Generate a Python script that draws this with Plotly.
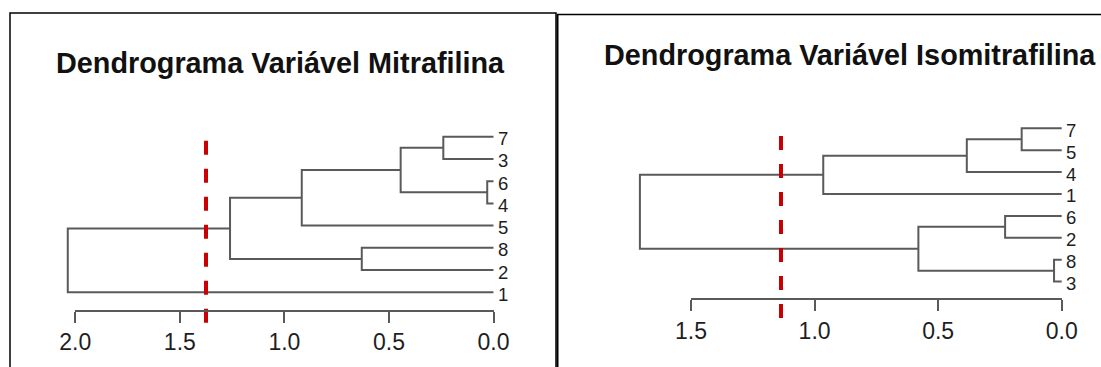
import plotly.graph_objects as go

W, H = 1101, 367

# ---------------- data ----------------
mitra_title = "Dendrograma Variável Mitrafilina"
mitra_leaves = ["7", "3", "6", "4", "5", "8", "2", "1"]
# (first child, second child, merge height); "Ck" = cluster made by k-th merge
mitra_merges = [
    ("7", "3", 0.240),
    ("6", "4", 0.030),
    ("8", "2", 0.630),
    ("C1", "C2", 0.444),
    ("C4", "5", 0.917),
    ("C5", "C3", 1.260),
    ("C6", "1", 2.036),
]
mitra_cut = 1.375
mitra_ticks = [0.0, 0.5, 1.0, 1.5, 2.0]

iso_title = "Dendrograma Variável Isomitrafilina"
iso_leaves = ["7", "5", "4", "1", "6", "2", "8", "3"]
iso_merges = [
    ("8", "3", 0.031),
    ("7", "5", 0.162),
    ("6", "2", 0.229),
    ("C2", "4", 0.384),
    ("C3", "C1", 0.580),
    ("C4", "1", 0.965),
    ("C6", "C5", 1.707),
]
iso_cut = 1.136
iso_ticks = [0.0, 0.5, 1.0, 1.5]

# ---------------- styles / geometry (pixels) ----------------
LINE = "#5a5a5a"
RED = "#c80000"
TXT = "#1e1e1e"
FONT = "Liberation Sans, Arial, sans-serif"

left_geo = dict(tree_px=(12, 554), zero_px=493.5, unit_px=209.1,
                leaf1_px=136.7, step_px=22.23, ydom_px=(95, 350),
                axis_px=310.7, cut_px=(140.7, 322.7),
                title_x=280, title_y=62.5)
right_geo = dict(tree_px=(560, 1099), zero_px=1061.7, unit_px=247.1,
                 leaf1_px=128.3, step_px=21.9, ydom_px=(95, 350),
                 axis_px=299.4, cut_px=(136, 320),
                 title_x=850, title_y=55)


def fx(px):
    return px / W


def fy(py):
    return 1 - py / H


def dendro_segments(leaves, merges):
    pos = {lab: i + 1 for i, lab in enumerate(leaves)}
    hgt = {lab: 0.0 for lab in leaves}
    xs, ys = [], []
    for k, (a, b, h) in enumerate(merges, start=1):
        ya, yb = pos[a], pos[b]
        xs += [hgt[a], h, h, hgt[b], None]
        ys += [ya, ya, yb, yb, None]
        cid = f"C{k}"
        pos[cid] = (ya + yb) / 2
        hgt[cid] = h
    return xs, ys


fig = go.Figure()
layout = dict(template="none", width=W, height=H, autosize=False,
              margin=dict(l=0, r=0, t=0, b=0, pad=0, autoexpand=False),
              paper_bgcolor="white", plot_bgcolor="rgba(0,0,0,0)",
              showlegend=False, annotations=[], shapes=[])

panels = [
    (mitra_title, mitra_leaves, mitra_merges, mitra_cut, mitra_ticks, left_geo, "", "2", ""),
    (iso_title, iso_leaves, iso_merges, iso_cut, iso_ticks, right_geo, "3", "4", "2"),
]

for title, leaves, merges, cut, ticks, g, xt, xs_, yid in panels:
    tx = "x" + xt
    sx = "x" + xs_
    ty = "y" + yid

    def val(px, g=g):
        return (g["zero_px"] - px) / g["unit_px"]

    def idx(py, g=g):
        return 1 + (py - g["leaf1_px"]) / g["step_px"]

    xs, ys = dendro_segments(leaves, merges)
    fig.add_trace(go.Scatter(x=xs, y=ys, mode="lines", xaxis=tx, yaxis=ty,
                             line=dict(color=LINE, width=2), hoverinfo="skip"))
    fig.add_trace(go.Scatter(x=[cut, cut], y=[idx(g["cut_px"][0]), idx(g["cut_px"][1])],
                             mode="lines", xaxis=tx, yaxis=ty,
                             line=dict(color=RED, width=4, dash="14px,14px"),
                             hoverinfo="skip"))
    fig.add_trace(go.Scatter(x=[ticks[0]], y=[1], mode="markers", xaxis=sx, yaxis=ty,
                             marker=dict(opacity=0), hoverinfo="skip"))

    kx = "xaxis" + xt
    ks = "xaxis" + xs_
    ky = "yaxis" + yid
    layout[kx] = dict(domain=[fx(g["tree_px"][0]), fx(g["tree_px"][1])],
                      range=[val(g["tree_px"][0]), val(g["tree_px"][1])],
                      visible=False, anchor=ty, automargin=False)
    layout[ky] = dict(domain=[fy(g["ydom_px"][1]), fy(g["ydom_px"][0])],
                      range=[idx(g["ydom_px"][1]), idx(g["ydom_px"][0])],
                      visible=False, anchor=tx, automargin=False)
    layout[ks] = dict(domain=[fx(g["zero_px"] - max(ticks) * g["unit_px"]), fx(g["zero_px"])],
                      range=[max(ticks), 0], anchor="free", position=fy(g["axis_px"]),
                      automargin=False,
                      showline=True, linecolor=LINE, linewidth=2,
                      ticks="outside", ticklen=11, tickwidth=2, tickcolor=LINE,
                      tickvals=ticks, tickformat=".1f",
                      tickfont=dict(family=FONT, size=23, color=TXT),
                      showgrid=False, zeroline=False)

    for i, lab in enumerate(leaves, start=1):
        layout["annotations"].append(dict(
            x=0, y=i, xref=tx, yref=ty, text=lab, showarrow=False,
            xanchor="left", yanchor="middle", xshift=3, yshift=-2,
            borderpad=0,
            font=dict(family=FONT, size=18.5, color=TXT)))

    layout["annotations"].append(dict(
        x=fx(g["title_x"]), y=fy(g["title_y"]), xref="paper", yref="paper",
        text="<b>" + title + "</b>", showarrow=False,
        xanchor="center", yanchor="middle",
        font=dict(family=FONT, size=28.8, color="#111111")))

# frames
layout["shapes"] += [
    dict(type="rect", xref="paper", yref="paper",
         x0=fx(10), x1=fx(556), y0=fy(370), y1=fy(13),
         line=dict(color="black", width=1.5)),
    dict(type="line", xref="paper", yref="paper",
         x0=fx(557), x1=fx(1105), y0=fy(14.5), y1=fy(14.5),
         line=dict(color="black", width=1.5)),
    dict(type="line", xref="paper", yref="paper",
         x0=fx(557.5), x1=fx(557.5), y0=fy(14.5), y1=fy(370),
         line=dict(color="black", width=2)),
]

fig.update_layout(**layout)
fig.write_html("out.html")
